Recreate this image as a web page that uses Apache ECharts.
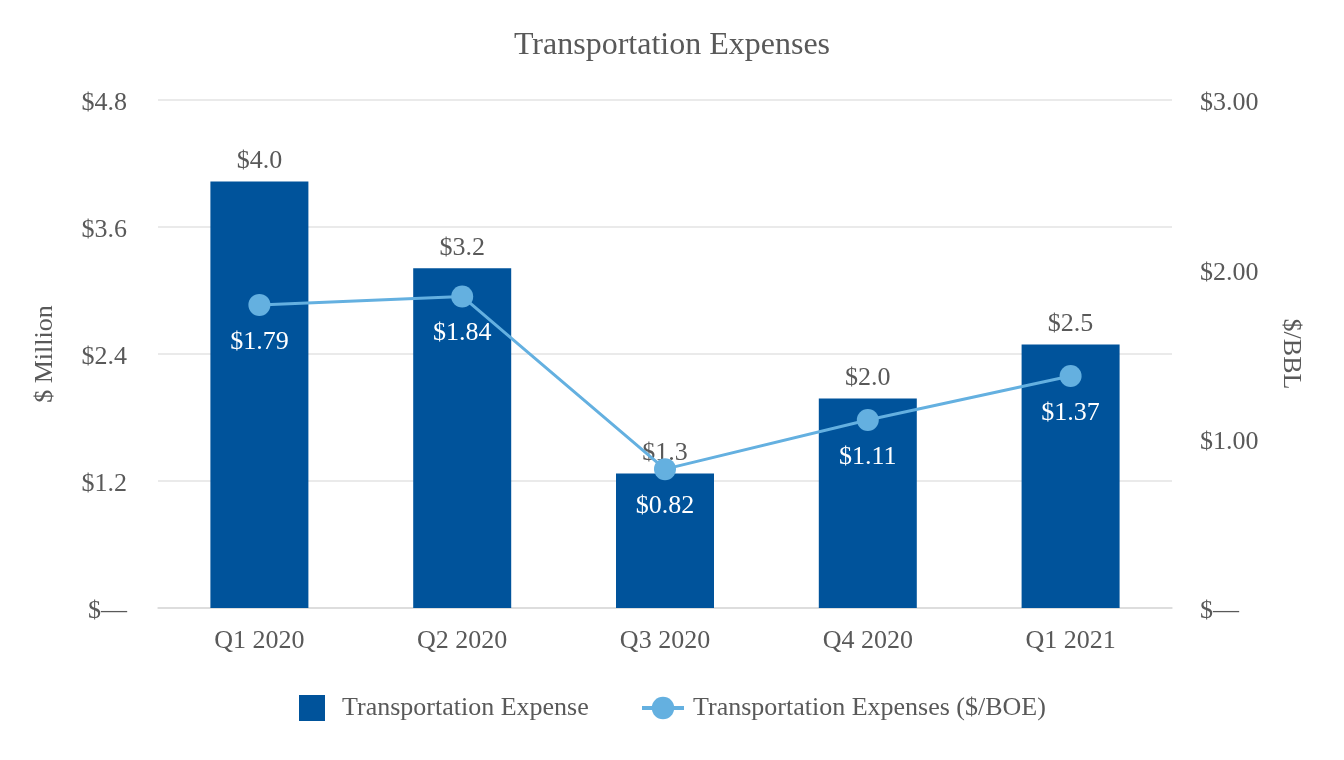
<!DOCTYPE html>
<html>
<head>
<meta charset="utf-8">
<script src="https://cdn.jsdelivr.net/npm/echarts@6/dist/echarts.min.js"></script>
<style>html,body{margin:0;padding:0;background:#fff;}#c{width:1344px;height:760px;}</style>
</head>
<body>
<div id="c"></div>
<script>
var categories = ['Q1 2020', 'Q2 2020', 'Q3 2020', 'Q4 2020', 'Q1 2021'];
var expenseMillion = [4.03, 3.21, 1.27, 1.98, 2.49];
var expensePerBoe = [1.79, 1.84, 0.82, 1.11, 1.37];
var leftTicks = { min: 0, max: 4.8, interval: 1.2 };
var rightTicks = { min: 0, max: 3, interval: 1 };

var FONT = '"Liberation Serif", "Times New Roman", serif';
var GREY = '#595959';
var FS = 26;
var tickRich = { a: { fontFamily: FONT, fontSize: FS, color: GREY, padding: [7, 0, 0, 0] } };
var chart = echarts.init(document.getElementById('c'));
chart.setOption({
  animation: false,
  backgroundColor: '#fff',
  textStyle: { fontFamily: FONT },
  title: {
    text: 'Transportation Expenses', left: 'center', top: 25,
    textStyle: { fontFamily: FONT, fontSize: 32, fontWeight: 'normal', color: GREY }
  },
  legend: [{
    data: [{ name: 'Transportation Expense', icon: 'rect' }], left: 299, top: 695, padding: 0,
    itemWidth: 26, itemHeight: 26,
    textStyle: { fontFamily: FONT, fontSize: FS, color: GREY, padding: [0, 0, 0, 12] }
  }, {
    data: ['Transportation Expenses ($/BOE)'], left: 640, top: 695, padding: 0,
    itemWidth: 42, itemHeight: 28,
    lineStyle: { width: 4 },
    textStyle: { fontFamily: FONT, fontSize: FS, color: GREY, padding: [0, 0, 0, 4] }
  }],
  grid: { left: 158, right: 172, top: 100, bottom: 152 },
  xAxis: {
    type: 'category', data: categories,
    axisLine: { show: true, lineStyle: { color: '#d9d9d9', width: 1.5 } },
    axisTick: { show: false },
    axisLabel: { fontFamily: FONT, fontSize: FS, color: GREY, margin: 20 }
  },
  yAxis: [{
    type: 'value', min: leftTicks.min, max: leftTicks.max, interval: leftTicks.interval,
    name: '$ Million', nameLocation: 'middle', nameGap: 100, nameRotate: 90,
    nameTextStyle: { fontFamily: FONT, fontSize: FS, color: GREY },
    axisLine: { show: false }, axisTick: { show: false },
    splitLine: { lineStyle: { color: '#e3e3e3', width: 1.5 } },
    axisLabel: {
      fontFamily: FONT, fontSize: FS, color: GREY, margin: 31, rich: tickRich,
      formatter: function (v) { return '{a|' + (v === 0 ? '$\u2014' : '$' + v.toFixed(1)) + '}'; }
    }
  }, {
    type: 'value', min: rightTicks.min, max: rightTicks.max, interval: rightTicks.interval,
    position: 'right',
    name: '$/BBL', nameLocation: 'middle', nameGap: 106, nameRotate: -90,
    nameTextStyle: { fontFamily: FONT, fontSize: FS, color: GREY },
    axisLine: { show: false }, axisTick: { show: false }, splitLine: { show: false },
    axisLabel: {
      fontFamily: FONT, fontSize: FS, color: GREY, margin: 28, rich: tickRich,
      formatter: function (v) { return '{a|' + (v === 0 ? '$\u2014' : '$' + v.toFixed(2)) + '}'; }
    }
  }],
  series: [{
    name: 'Transportation Expense', type: 'bar', yAxisIndex: 0,
    data: expenseMillion, barWidth: 98,
    itemStyle: { color: '#00539b' },
    label: {
      show: true, position: 'top', distance: 7,
      fontFamily: FONT, fontSize: FS, color: GREY,
      formatter: function (p) { return '$' + p.value.toFixed(1); }
    }
  }, {
    name: 'Transportation Expenses ($/BOE)', type: 'line', yAxisIndex: 1,
    data: expensePerBoe, symbol: 'circle', symbolSize: 22,
    lineStyle: { color: '#64b0e0', width: 3 },
    itemStyle: { color: '#64b0e0' },
    label: {
      show: true, position: 'bottom', distance: 13,
      fontFamily: FONT, fontSize: FS, color: '#ffffff',
      formatter: function (p) { return '$' + p.value.toFixed(2); }
    },
    z: 3
  }]
});
</script>
</body>
</html>
